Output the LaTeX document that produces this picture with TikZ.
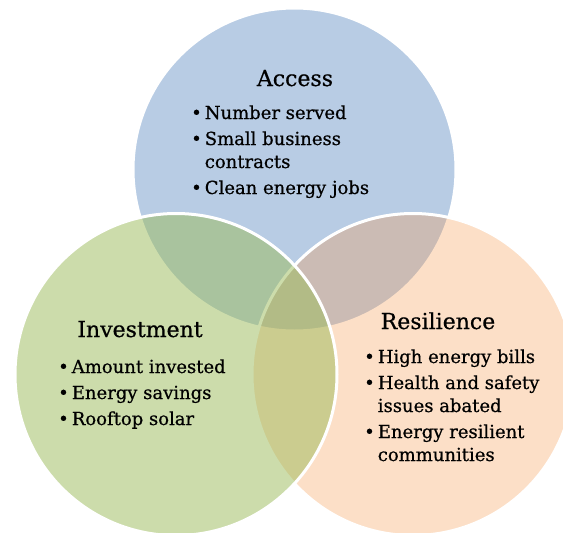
\documentclass[tikz,border=0pt]{standalone}
\usepackage{fontspec}
\setmainfont{DejaVu Serif}[FakeBold=0.6]
\usepackage{xcolor}
\usepackage{tikz}
\usetikzlibrary{calc}

\definecolor{vennBlue}{HTML}{4F81BD}
\definecolor{vennGreen}{HTML}{9BBB59}
\definecolor{vennOrange}{HTML}{F79646}

\tikzset{
  venn/.style={draw=white, line width=3pt},
  vennTitle/.style={anchor=base, inner sep=0pt, font=\fontsize{22}{26}\selectfont},
  vennList/.style={anchor=base west, inner sep=0pt, font=\fontsize{18}{23}\selectfont}
}

\begin{document}
\begin{tikzpicture}[x=1pt, y=-1pt]
  % Canvas (pixel grid of the reference)
\fill[white] (0,0) rectangle (563,533);
\useasboundingbox (0,0) rectangle (563,533);

% Circles: top first, then right, then left on top
\filldraw[venn, fill=vennBlue, fill opacity=0.4] (294.5,169.5) circle[radius=161.5pt];
\filldraw[venn, fill=vennOrange, fill opacity=0.3] (413,374.5) circle[radius=161pt];
\filldraw[venn, fill=vennGreen, fill opacity=0.5] (176,374.5) circle[radius=161pt];

% Access
\node[vennTitle] (accessTitle) at (295,86) {Access};
\node[vennList] (accessList) at (191,119) {%
  \begin{tabular}[t]{@{}l@{\hspace{3pt}}l@{}}
  \textbullet & Number served\\[3pt]
  \textbullet & Small business\\
              & contracts\\[3pt]
  \textbullet & Clean energy jobs
  \end{tabular}};

% Investment
\node[vennTitle] (investTitle) at (140,337) {Investment};
\node[vennList] (investList) at (58,373) {%
  \begin{tabular}[t]{@{}l@{\hspace{3pt}}l@{}}
  \textbullet & Amount invested\\[3pt]
  \textbullet & Energy savings\\[3pt]
  \textbullet & Rooftop solar
  \end{tabular}};

% Resilience
\node[vennTitle] (resilTitle) at (438,329) {Resilience};
\node[vennList] (resilList) at (364,363) {%
  \begin{tabular}[t]{@{}l@{\hspace{3pt}}l@{}}
  \textbullet & High energy bills\\[3pt]
  \textbullet & Health and safety\\
              & issues abated\\[3pt]
  \textbullet & Energy resilient\\
              & communities
  \end{tabular}};
\end{tikzpicture}
\end{document}
